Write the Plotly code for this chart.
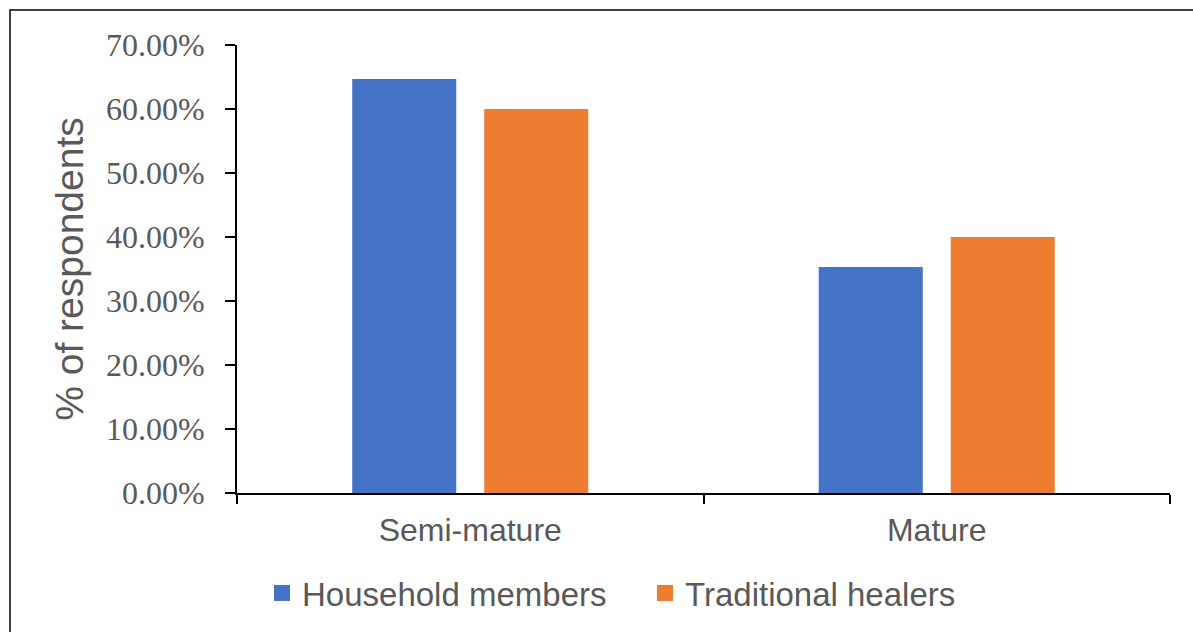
import plotly.graph_objects as go

categories = ["Semi-mature", "Mature"]
household = [0.647, 0.353]
healers = [0.60, 0.40]
series_names = ["Household members", "Traditional healers"]
colors = ["#4472C4", "#ED7D31"]

W, H = 1193, 632
L, R, T, B = 237, 23, 45, 139
pw, ph = W - L - R, H - T - B

fig = go.Figure()
for name, vals, col in zip(series_names, [household, healers], colors):
    fig.add_trace(go.Bar(x=categories, y=vals, name=name, showlegend=False,
                         marker=dict(color=col, line=dict(width=0))))
for name, col in zip(series_names, colors):
    fig.add_trace(go.Scatter(x=[None], y=[None], name=name, mode="markers",
                             marker=dict(symbol="square", size=16, color=col)))

def px_x(x):
    return (x - L) / pw

def px_y(y):
    return (H - B - y) / ph

shapes = [
    dict(type="line", xref="paper", yref="paper", x0=px_x(9), x1=px_x(1193), y0=px_y(10), y1=px_y(10),
         line=dict(color="#404040", width=2)),
    dict(type="line", xref="paper", yref="paper", x0=px_x(10), x1=px_x(10), y0=px_y(10), y1=px_y(632),
         line=dict(color="#404040", width=2)),
]

fig.update_layout(
    width=W, height=H,
    margin=dict(l=L, r=R, t=T, b=B, autoexpand=False),
    paper_bgcolor="white", plot_bgcolor="white",
    barmode="group", bargap=0.434, bargroupgap=0.212,
    showlegend=True,
    legend=dict(orientation="h", x=px_x(262), xanchor="left", y=px_y(593), yanchor="middle",
                font=dict(family="Liberation Sans, Arial", size=33, color="#595959"),
                entrywidth=338, entrywidthmode="pixels"),
    shapes=shapes,
    xaxis=dict(showline=True, linecolor="#000000", linewidth=2, ticks="outside", tickson="boundaries",
               ticklen=9, tickwidth=2, tickcolor="#000000", showgrid=False, ticklabelstandoff=8,
               tickfont=dict(family="Liberation Sans, Arial", size=32, color="#595959")),
    yaxis=dict(range=[0, 0.7], dtick=0.1, tickformat=".2%", showline=True, linecolor="#000000", linewidth=2,
               ticks="outside", ticklen=10, tickwidth=2, tickcolor="#000000", showgrid=False, zeroline=False,
               ticklabelstandoff=14,
               tickfont=dict(family="Liberation Serif, Times New Roman", size=32, color="#595959")),
    yaxis_title=dict(text="% of respondents", standoff=10,
                     font=dict(family="Liberation Sans, Arial", size=39, color="#595959")),
)

fig.write_html("out.html")
